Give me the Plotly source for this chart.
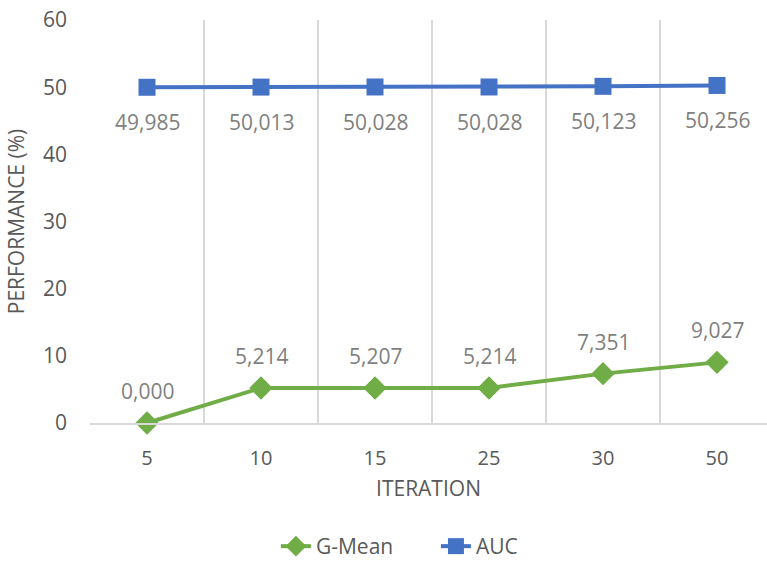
import plotly.graph_objects as go

# Iteration settings and the two performance series
iterations = ["5", "10", "15", "25", "30", "50"]
g_mean = [0.000, 5.214, 5.207, 5.214, 7.351, 9.027]
auc = [49.985, 50.013, 50.028, 50.028, 50.123, 50.256]

GREEN = "#70AD47"
BLUE = "#4472C4"
TEXT = "#595959"
LABEL = "#7F7F7F"
GRID = "#D9D9D9"
FONT = "Open Sans"
FS = 21

xpos = list(range(len(iterations)))


def fmt(v):
    return f"{v:.3f}".replace(".", ",")


fig = go.Figure()
fig.add_trace(go.Scatter(
    x=xpos, y=g_mean, name="G-Mean", mode="lines+markers",
    line=dict(color=GREEN, width=4),
    marker=dict(symbol="diamond", size=18, color=GREEN),
    cliponaxis=False,
))
fig.add_trace(go.Scatter(
    x=xpos, y=auc, name="AUC", mode="lines+markers",
    line=dict(color=BLUE, width=4),
    marker=dict(symbol="square", size=17, color=BLUE),
    cliponaxis=False,
))

# value labels: G-Mean above its points, AUC below its points
for x, v in zip(xpos, g_mean):
    fig.add_annotation(x=x, y=v, text=fmt(v), showarrow=False, yshift=32,
                       font=dict(family=FONT, size=FS, color=LABEL))
for x, v in zip(xpos, auc):
    fig.add_annotation(x=x, y=v, text=fmt(v), showarrow=False, yshift=-35,
                       font=dict(family=FONT, size=FS, color=LABEL))

fig.update_layout(
    width=767, height=567,
    margin=dict(l=90, r=0, t=20, b=144, autoexpand=False),
    paper_bgcolor="white", plot_bgcolor="white",
    font=dict(family=FONT, color=TEXT),
    showlegend=True,
    legend=dict(orientation="h", x=0.511, xanchor="center",
                y=-0.008, yref="container", yanchor="bottom",
                entrywidth=115, entrywidthmode="pixels",
                font=dict(family=FONT, size=FS, color=TEXT),
                traceorder="normal"),
    xaxis=dict(
        range=[-0.5, -0.5 + 677 / 114],
        tickmode="array", tickvals=xpos, ticktext=iterations,
        showgrid=False, zeroline=False,
        showline=True, linecolor=GRID, linewidth=2,
        ticks="", ticklabelstandoff=16,
        tickfont=dict(family=FONT, size=FS - 1, color=TEXT),
        minor=dict(tick0=-0.5, dtick=1, showgrid=True, gridcolor=GRID,
                   gridwidth=2, ticks=""),
        title=dict(text="ITERATION", standoff=11,
                   font=dict(family=FONT, size=FS, color=TEXT)),
        fixedrange=True,
    ),
    yaxis=dict(
        range=[0, 60], tickmode="linear", tick0=0, dtick=10,
        showgrid=False, zeroline=False, showline=False,
        ticks="", ticklabelstandoff=22,
        tickfont=dict(family=FONT, size=FS, color=TEXT),
        title=dict(text="PERFORMANCE (%)", standoff=12,
                   font=dict(family=FONT, size=FS, color=TEXT)),
        fixedrange=True,
    ),
)

fig.write_html("out.html")
